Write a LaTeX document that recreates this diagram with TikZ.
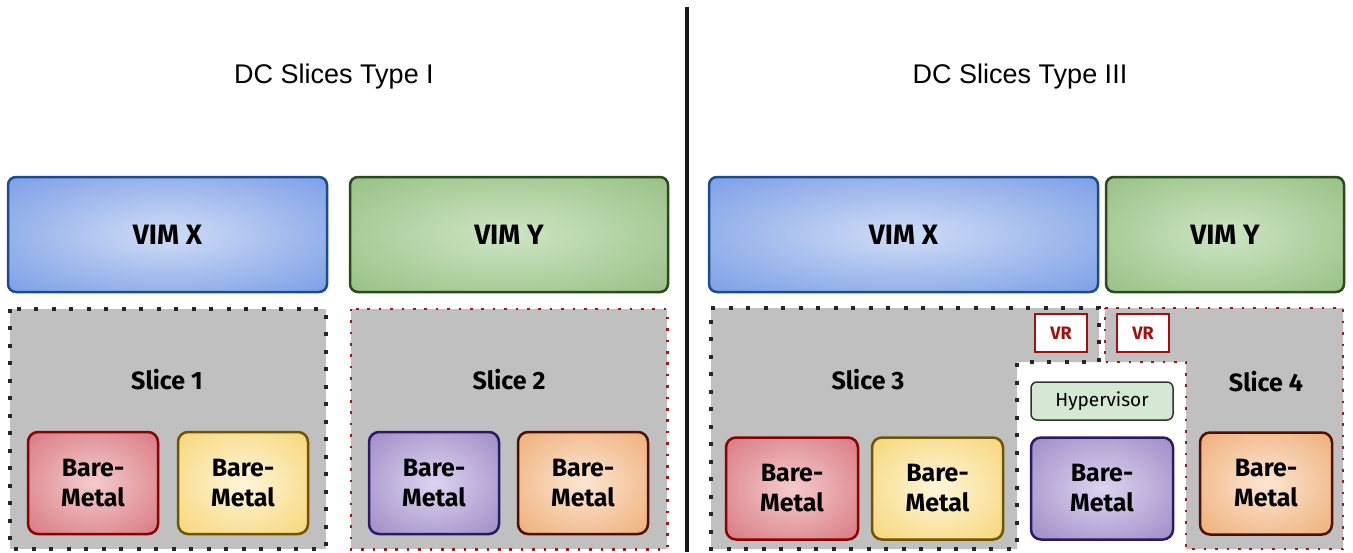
\documentclass[tikz,border=0pt]{standalone}
\usepackage{fontspec}
\setmainfont{Fira Sans}
\newfontfamily\titlefont{Liberation Sans}

% colours
\definecolor{slicegray}{HTML}{C0C0C0}
\definecolor{vxline}{HTML}{1B4B93}\definecolor{vxin}{HTML}{CFDCF6}\definecolor{vxout}{HTML}{5A86DF}
\definecolor{vyline}{HTML}{2A4A1C}\definecolor{vyin}{HTML}{CDE5C3}\definecolor{vyout}{HTML}{82B26C}
\definecolor{redline}{HTML}{8B0000}\definecolor{redin}{HTML}{F4CBCE}\definecolor{redout}{HTML}{CD5860}
\definecolor{yelline}{HTML}{705400}\definecolor{yelin}{HTML}{FFF5DA}\definecolor{yelout}{HTML}{F3CA50}
\definecolor{purline}{HTML}{2A1A66}\definecolor{purin}{HTML}{DCD4F0}\definecolor{purout}{HTML}{866EB4}
\definecolor{oraline}{HTML}{4D0F00}\definecolor{orain}{HTML}{FCE6D2}\definecolor{oraout}{HTML}{E99854}
\definecolor{hypfill}{HTML}{D5E8D4}
\definecolor{vrred}{HTML}{A01010}
\definecolor{dotred}{HTML}{A01818}

% soft radial glow that reaches its outer colour at the box edges
\colorlet{glowin}{white}\colorlet{glowout}{black}
\pgfdeclareradialshading[glowin,glowout]{glow}{\pgfpoint{0bp}{0bp}}%
  {color(0bp)=(glowin); color(50bp)=(glowout); color(75bp)=(glowout)}

\tikzset{
  glowcols/.code 2 args={\colorlet{glowin}{#1}\colorlet{glowout}{#2}},
  vimbox/.style={draw, line width=2.5pt, rounded corners=8pt, shading=glow,
    minimum height=115pt, inner sep=0pt, text=black,
    font=\fontsize{28}{30}\selectfont\bfseries},
  metalbox/.style={draw, line width=2.5pt, rounded corners=10pt, shading=glow,
    minimum width=130pt, minimum height=102pt, inner sep=0pt, align=center,
    text=black, font=\fontsize{25}{30}\selectfont\bfseries},
  slicefill/.style={fill=slicegray, draw=none},
  blackdots/.style={draw=black!85, line width=4pt, dash pattern=on 4pt off 13.5pt},
  reddots/.style={draw=dotred, line width=2.6pt, dash pattern=on 2.6pt off 8.8pt},
  slicelabel/.style={font=\fontsize{25}{28}\selectfont\bfseries, inner sep=0pt},
  vrbox/.style={draw=vrred, fill=white, line width=1.6pt, minimum width=52pt,
    minimum height=38pt, inner sep=0pt, text=vrred,
    font=\fontsize{18}{20}\selectfont\bfseries},
  hypbox/.style={draw=black!80, fill=hypfill, line width=1.5pt, rounded corners=6pt,
    minimum width=142pt, minimum height=38pt, inner sep=0pt,
    font=\fontsize{19}{21}\selectfont},
  heading/.style={font=\titlefont\fontsize{27}{30}\selectfont, inner sep=0pt},
}

\begin{document}
\begin{tikzpicture}[x=1pt, y=-1pt]
\useasboundingbox (0,0) rectangle (1353,552);
\fill[white] (0,0) rectangle (1353,552);

% headings and divider
\node[heading, anchor=base] (titleA) at (334,83) {DC Slices Type I};
\node[heading, anchor=base] (titleB) at (1020,83) {DC Slices Type III};
\coordinate (divtop) at (687,7);
\coordinate (divbot) at (687,552);
\draw[line width=4pt, black!90] (divtop) -- (divbot);

% ---------- type I ----------
\node[vimbox, glowcols={vxin}{vxout}, draw=vxline, minimum width=319pt] (vimxA) at (167.5,234.5) {VIM X};
\node[vimbox, glowcols={vyin}{vyout}, draw=vyline, minimum width=318pt] (vimyA) at (509,234.5) {VIM Y};

\node[slicefill, minimum width=316pt, minimum height=240pt, inner sep=0pt] (slice1) at (168,429) {};
\node[slicefill, minimum width=316pt, minimum height=240pt, inner sep=0pt] (slice2) at (509,429) {};
\draw[blackdots] (slice1.north west) rectangle (slice1.south east);
\draw[reddots] (slice2.north west) rectangle (slice2.south east);

\node[slicelabel] (lab1) at (167,380) {Slice 1};
\node[slicelabel] (lab2) at (509,380) {Slice 2};

\node[metalbox, glowcols={redin}{redout}, draw=redline] (bm1) at (93,483) {Bare-\\Metal};
\node[metalbox, glowcols={yelin}{yelout}, draw=yelline] (bm2) at (243,483) {Bare-\\Metal};
\node[metalbox, glowcols={purin}{purout}, draw=purline] (bm3) at (434,483) {Bare-\\Metal};
\node[metalbox, glowcols={orain}{oraout}, draw=oraline] (bm4) at (583,483) {Bare-\\Metal};

% ---------- type III ----------
\node[vimbox, glowcols={vxin}{vxout}, draw=vxline, minimum width=389pt] (vimxB) at (903.5,234.5) {VIM X};
\node[vimbox, glowcols={vyin}{vyout}, draw=vyline, minimum width=238pt] (vimyB) at (1225,234.5) {VIM Y};

% slice 3 and slice 4 outlines (stepped around the shared hypervisor host)
\path[slicefill] (711,308) -- (1099,308) -- (1099,362) -- (1017,362) -- (1017,549) -- (711,549) -- cycle;
\path[slicefill] (1105,308) -- (1343,308) -- (1343,549) -- (1186,549) -- (1186,362) -- (1105,362) -- cycle;
\draw[blackdots] (711,308) -- (1099,308) -- (1099,362) -- (1017,362) -- (1017,549) -- (711,549) -- cycle;
\draw[reddots] (1105,308) -- (1343,308) -- (1343,549) -- (1186,549) -- (1186,362) -- (1105,362) -- cycle;

\node[slicelabel] (lab3) at (868,380) {Slice 3};
\node[slicelabel] (lab4) at (1266,382) {Slice 4};

\node[vrbox] (vr3) at (1061,333) {VR};
\node[vrbox] (vr4) at (1143,333) {VR};

\node[hypbox] (hyp) at (1102,401) {Hypervisor};

\node[metalbox, glowcols={redin}{redout}, draw=redline, minimum width=132pt] (bm5) at (792,488.5) {Bare-\\Metal};
\node[metalbox, glowcols={yelin}{yelout}, draw=yelline, minimum width=131pt] (bm6) at (937.5,488.5) {Bare-\\Metal};
\node[metalbox, glowcols={purin}{purout}, draw=purline, minimum width=142pt] (bm7) at (1102,488.5) {Bare-\\Metal};
\node[metalbox, glowcols={orain}{oraout}, draw=oraline, minimum width=132pt] (bm8) at (1266,483.5) {Bare-\\Metal};
\end{tikzpicture}
\end{document}
